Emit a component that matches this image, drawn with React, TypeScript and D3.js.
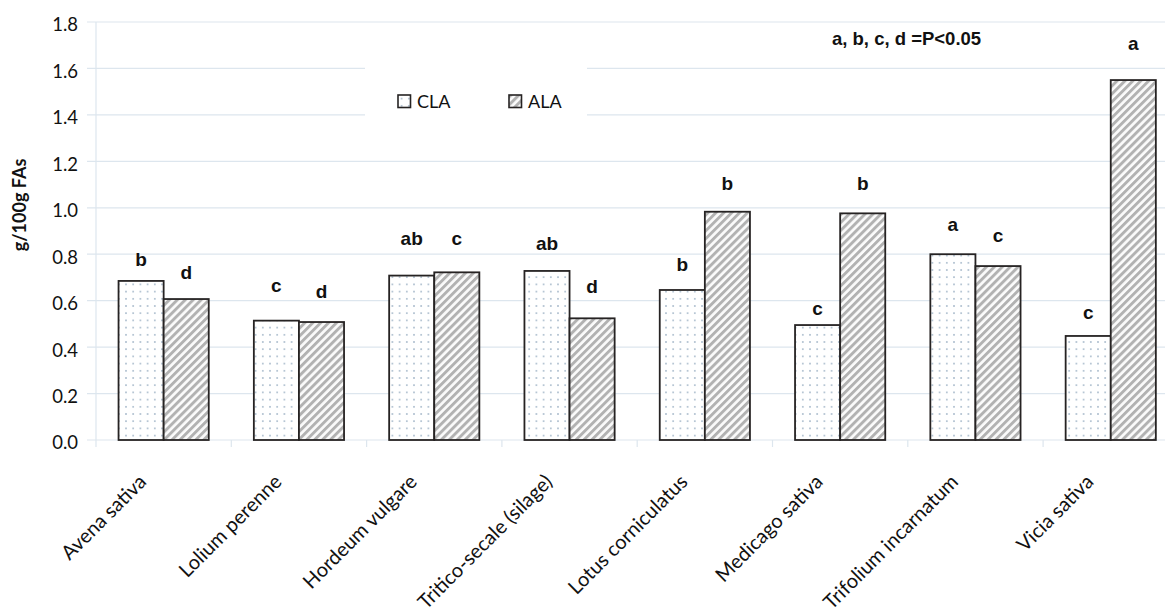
import React from "react";
import * as d3 from "d3";

const categories = [
  "Avena sativa",
  "Lolium perenne",
  "Hordeum vulgare",
  "Tritico-secale (silage)",
  "Lotus corniculatus",
  "Medicago sativa",
  "Trifolium incarnatum",
  "Vicia sativa",
];
const seriesNames = ["CLA", "ALA"];
const claValues = [0.685, 0.514, 0.708, 0.728, 0.646, 0.495, 0.8, 0.448];
const alaValues = [0.607, 0.508, 0.722, 0.524, 0.983, 0.976, 0.749, 1.55];
const claLetters = ["b", "c", "ab", "ab", "b", "c", "a", "c"];
const alaLetters = ["d", "d", "c", "d", "b", "b", "c", "a"];
// height (in axis units) of each significance letter's baseline
const claLetterLevel = [0.749, 0.637, 0.84, 0.818, 0.728, 0.538, 0.902, 0.521];
const alaLetterLevel = [0.693, 0.612, 0.84, 0.633, 1.077, 1.077, 0.853, 1.68];
const yTicks = [0, 0.2, 0.4, 0.6, 0.8, 1.0, 1.2, 1.4, 1.6, 1.8];
const yLabel = "g/100g FAs";
const note = "a, b, c, d =P<0.05";

const W = 1165;
const H = 609;
const left = 96;
const right = 1178.4;
const top = 22;
const bottom = 440;

const GRID = "#dde6ee";
const STROKE = "#262323";
const LATO = "Lato, 'Open Sans', sans-serif";
const ARIAL = "'Liberation Sans', Arial, sans-serif";

export default function App() {
  const x = d3.scaleBand<string>().domain(categories).range([left, right]).padding(0);
  const bw = x.bandwidth();
  const xs = d3
    .scaleBand<string>()
    .domain(seriesNames)
    .range([bw / 6, (5 * bw) / 6])
    .padding(0);
  const y = d3.scaleLinear().domain([0, 1.8]).range([bottom, top]);

  const series = [
    { name: "CLA", values: claValues, letters: claLetters, levels: claLetterLevel, fill: "url(#dots)" },
    { name: "ALA", values: alaValues, letters: alaLetters, levels: alaLetterLevel, fill: "url(#stripes)" },
  ];

  return (
    <svg
      width={W}
      height={H}
      style={{ position: "absolute", left: 0, top: 0, background: "#fff" }}
    >
      <defs>
        <pattern id="dots" width={7.2} height={7.2} patternUnits="userSpaceOnUse">
          <rect width={7.2} height={7.2} fill="#fff" />
          <circle cx={3.6} cy={3.6} r={0.85} fill="#98aec2" />
        </pattern>
        <pattern
          id="stripes"
          width={5.6}
          height={5.6}
          patternUnits="userSpaceOnUse"
          patternTransform="rotate(45)"
        >
          <rect width={5.6} height={5.6} fill="#fbfbfb" />
          <rect width={2.9} height={5.6} fill="#b2b2b2" />
        </pattern>
      </defs>

      {/* gridlines and y ticks */}
      {yTicks.map((t) => (
        <g key={t}>
          <line x1={left - 9} x2={W} y1={y(t)} y2={y(t)} stroke={GRID} strokeWidth={1.2} />
          <text
            x={78}
            y={y(t) + 3}
            dy="0.35em"
            textAnchor="end"
            fontFamily={LATO}
            fontSize={18.5}
            fill="#111"
          >
            {t.toFixed(1)}
          </text>
        </g>
      ))}
      <line x1={left} x2={left} y1={top} y2={bottom} stroke={GRID} strokeWidth={1.2} />
      {categories.map((c) => (
        <line
          key={"t" + c}
          x1={x(c) as number}
          x2={x(c) as number}
          y1={bottom}
          y2={bottom + 7}
          stroke={GRID}
          strokeWidth={1.2}
        />
      ))}

      {/* legend box */}
      <rect x={365} y={50} width={222} height={90} fill="#fff" />
      {series.map((s, i) => (
        <g key={"lg" + s.name} transform={`translate(${398 + i * 111},95)`}>
          <rect x={0} y={0} width={12.5} height={12.5} fill={s.fill} stroke={STROKE} strokeWidth={1.6} />
          <text x={19} y={13} fontFamily={LATO} fontSize={18} fill="#111">
            {s.name}
          </text>
        </g>
      ))}

      {/* bars */}
      {series.map((s) =>
        categories.map((c, i) => {
          const x0 = (x(c) as number) + (xs(s.name) as number);
          return (
            <rect
              key={s.name + c}
              x={x0}
              y={y(s.values[i])}
              width={xs.bandwidth()}
              height={bottom - y(s.values[i])}
              fill={s.fill}
              stroke={STROKE}
              strokeWidth={1.8}
            />
          );
        })
      )}

      {/* significance letters */}
      {series.map((s) =>
        categories.map((c, i) => {
          const cx = (x(c) as number) + (xs(s.name) as number) + xs.bandwidth() / 2;
          return (
            <text
              key={"l" + s.name + c}
              x={cx}
              y={y(s.levels[i])}
              textAnchor="middle"
              fontFamily={ARIAL}
              fontWeight="bold"
              fontSize={19}
              fill="#111"
            >
              {s.letters[i]}
            </text>
          );
        })
      )}

      {/* note */}
      <text x={832} y={45} fontFamily={ARIAL} fontWeight="bold" fontSize={18.5} fill="#111">
        {note}
      </text>

      {/* category labels */}
      {categories.map((c) => {
        const cx = (x(c) as number) + bw / 2;
        return (
          <text
            key={"c" + c}
            transform={`translate(${cx - 16},${483}) rotate(-45)`}
            textAnchor="end"
            fontFamily={LATO}
            fontSize={20}
            fill="#111"
          >
            {c}
          </text>
        );
      })}

      {/* y axis title */}
      <text
        transform={`translate(26,205) rotate(-90)`}
        textAnchor="middle"
        fontFamily={LATO}
        fontWeight="bold"
        fontSize={18}
        fill="#111"
      >
        {yLabel}
      </text>
    </svg>
  );
}
